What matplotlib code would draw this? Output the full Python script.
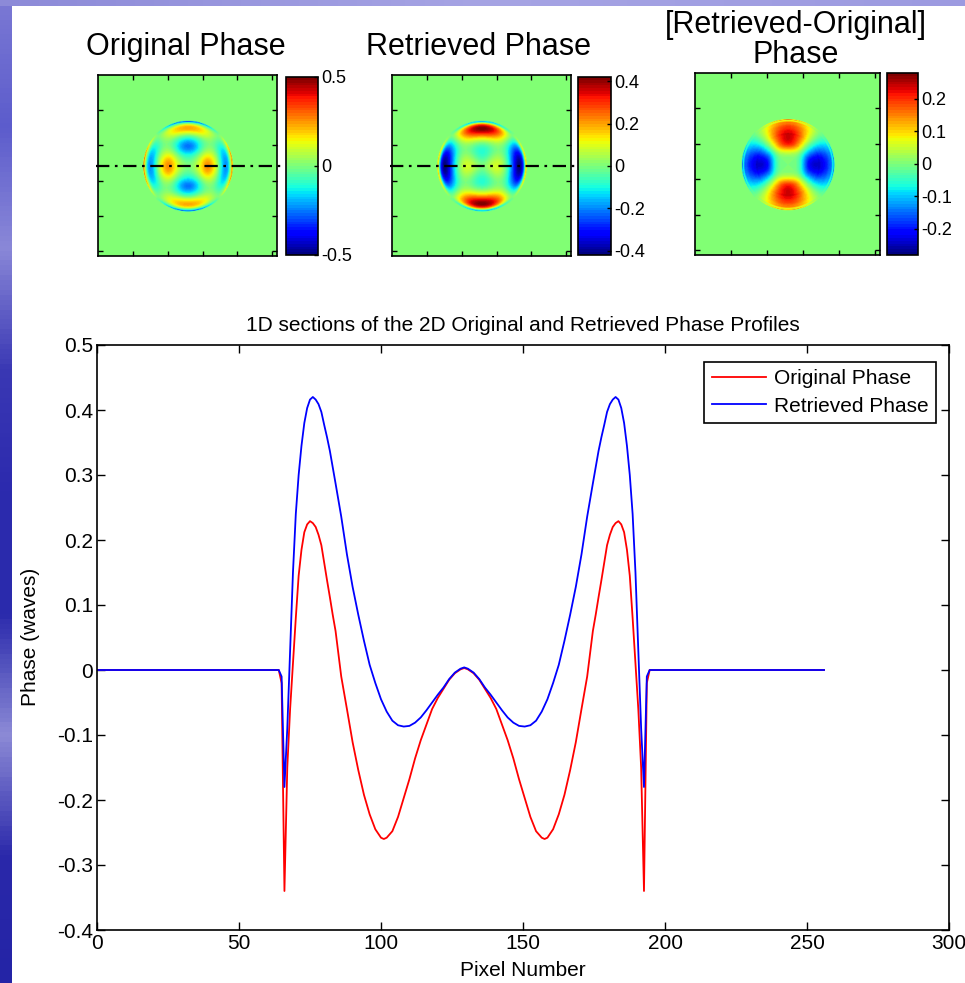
import numpy as np
import matplotlib
matplotlib.use("Agg")
import matplotlib.pyplot as plt
from matplotlib.colors import LinearSegmentedColormap

plt.rcParams['font.family'] = ['Liberation Sans', 'DejaVu Sans']
plt.rcParams['axes.unicode_minus'] = False

# 1D section of the original phase (pixel number, waves)
x_orig = [0, 64, 65, 66, 67, 68, 69, 70, 71, 72, 73, 74, 75, 76, 77, 78, 79, 80,
          81, 82, 83, 84, 86, 88, 90, 92, 94, 96, 98, 100, 101, 102, 104, 106,
          108, 110, 112, 114, 116, 118, 120, 122, 124, 126, 128, 129.3,
          130.6, 132.6, 134.6, 136.6, 138.6, 140.6, 142.6, 144.6, 146.6, 148.6,
          150.6, 152.6, 154.6, 156.6, 157.6, 158.6, 160.6, 162.6, 164.6, 166.6,
          168.6, 170.6, 172.6, 174.6, 175.6, 176.6, 177.6, 178.6, 179.6, 180.6,
          181.6, 182.6, 183.6, 184.6, 185.6, 186.6, 187.6, 188.6, 189.6, 190.6,
          191.6, 192.6, 193.6, 194.6, 256]
phase_orig = [0, 0, -0.02, -0.34, -0.15, -0.06, 0.01, 0.08, 0.145, 0.185, 0.212,
              0.224, 0.229, 0.226, 0.22, 0.208, 0.192, 0.165, 0.138, 0.112, 0.085,
              0.06, -0.01, -0.06, -0.111, -0.154, -0.192, -0.222, -0.245, -0.258,
              -0.26, -0.258, -0.248, -0.226, -0.197, -0.168, -0.136, -0.108,
              -0.084, -0.06, -0.043, -0.029, -0.015, -0.005, 0.001, 0.003,
              0.001, -0.005, -0.015, -0.029, -0.043, -0.06, -0.084, -0.108,
              -0.136, -0.168, -0.197, -0.226, -0.248, -0.258, -0.26, -0.258,
              -0.245, -0.222, -0.192, -0.154, -0.111, -0.06, -0.01, 0.06, 0.085,
              0.112, 0.138, 0.165, 0.192, 0.208, 0.22, 0.226, 0.229, 0.224, 0.212,
              0.185, 0.145, 0.08, 0.01, -0.06, -0.15, -0.34, -0.02, 0, 0]

# 1D section of the retrieved phase
x_ret = [0, 64, 65, 66, 67, 68, 69, 70, 71, 72, 73, 74, 75, 76, 77, 78, 79, 80,
         81, 82, 84, 86, 88, 90, 92, 94, 96, 98, 100, 102, 104, 106, 108, 110,
         112, 114, 116, 118, 120, 122, 124, 126, 128, 129.3,
         130.6, 132.6, 134.6, 136.6, 138.6, 140.6, 142.6, 144.6, 146.6, 148.6,
         150.6, 152.6, 154.6, 156.6, 158.6, 160.6, 162.6, 164.6, 166.6, 168.6,
         170.6, 172.6, 174.6, 176.6, 177.6, 178.6, 179.6, 180.6, 181.6, 182.6,
         183.6, 184.6, 185.6, 186.6, 187.6, 188.6, 189.6, 190.6, 191.6, 192.6,
         193.6, 194.6, 256]
phase_ret = [0, 0, -0.01, -0.18, -0.09, 0.03, 0.15, 0.24, 0.3, 0.345, 0.38, 0.403,
             0.416, 0.42, 0.416, 0.409, 0.397, 0.377, 0.358, 0.337, 0.287, 0.236,
             0.178, 0.128, 0.085, 0.045, 0.008, -0.02, -0.045, -0.064, -0.078,
             -0.085, -0.087, -0.086, -0.081, -0.073, -0.062, -0.05, -0.038,
             -0.027, -0.014, -0.004, 0.002, 0.004,
             0.002, -0.004, -0.014, -0.027, -0.038, -0.05, -0.062, -0.073,
             -0.081, -0.086, -0.087, -0.085, -0.078, -0.064, -0.045, -0.02,
             0.008, 0.045, 0.085, 0.128, 0.178, 0.236, 0.287, 0.337, 0.358,
             0.377, 0.397, 0.409, 0.416, 0.42, 0.416, 0.403, 0.38, 0.345, 0.3,
             0.24, 0.15, 0.03, -0.09, -0.18, -0.01, 0, 0]

x_ticks = [0, 50, 100, 150, 200, 250, 300]
y_ticks = [-0.4, -0.3, -0.2, -0.1, 0, 0.1, 0.2, 0.3, 0.4, 0.5]

center_px = 129.3
clim_orig, ticks_orig = 0.5, [-0.5, 0, 0.5]
clim_ret, ticks_ret = 0.42, [-0.4, -0.2, 0, 0.2, 0.4]
clim_diff, ticks_diff = 0.28, [-0.2, -0.1, 0, 0.1, 0.2]


def phase_map(xs, vals, n=256, c=center_px):
    # 2D map: radial profile of the section times an astigmatic cos(2*theta)
    xs = np.asarray(xs, float)
    vals = np.asarray(vals, float)
    keep = (xs >= 60) & (xs <= c)
    r_k = c - xs[keep]
    v_k = vals[keep]
    order = np.argsort(r_k)
    yy, xx = np.mgrid[1:n + 1, 1:n + 1]
    dx = xx - c
    dy = yy - c
    r = np.hypot(dx, dy)
    f = np.interp(r, r_k[order], v_k[order], right=0.0)
    ang = (dy ** 2 - dx ** 2) / np.maximum(r, 1e-9) ** 2
    return f * ang


W, H = 965, 983
fig = plt.figure(figsize=(W / 100, H / 100), dpi=100)
fig.patch.set_facecolor('white')


def px_axes(x0, y0, x1, y1, **kw):
    return fig.add_axes([x0 / W, 1 - y1 / H, (x1 - x0) / W, (y1 - y0) / H], **kw)


# slide background strips
strip = px_axes(0, 0, 12, H)
slide = LinearSegmentedColormap.from_list(
    'slide', ['#7a78d4', '#5c5ccc', '#8a88d8', '#3a38b4', '#2c2aae', '#2a2aac',
              '#8c8ad6', '#2a28aa', '#2424a6'])
strip.imshow(np.linspace(0, 1, 200)[:, None], aspect='auto', cmap=slide)
strip.axis('off')
band = px_axes(0, 0, W, 6)
band.imshow(np.linspace(0, 1, 200)[None, :], aspect='auto',
            cmap=LinearSegmentedColormap.from_list('band', ['#8c8ad8', '#a6a4e4', '#9c9ae0']))
band.axis('off')

jet = plt.get_cmap('jet', 64)

maps = [
    (phase_map(x_orig, phase_orig), clim_orig, ticks_orig,
     (98, 75, 277, 256), (286, 77, 318, 255), True),
    (phase_map(x_ret, phase_ret), clim_ret, ticks_ret,
     (392, 75, 571, 256), (578, 77, 611, 255), True),
    (phase_map(x_ret, phase_ret) - phase_map(x_orig, phase_orig), clim_diff, ticks_diff,
     (695, 73, 880, 255), (887, 73, 918, 255), False),
]

for img, cl, tks, apos, cpos, section in maps:
    ax = px_axes(*apos)
    im = ax.imshow(img, cmap=jet, vmin=-cl, vmax=cl, aspect='auto',
                   extent=(0.5, 256.5, 256.5, 0.5))
    if section:
        ax.plot([-2, 266], [129, 129], color='black', lw=1.6, clip_on=False,
                dashes=(6, 2.5, 1.2, 2.5))
    ax.set_xlim(0.5, 256.5)
    ax.set_ylim(256.5, 0.5)
    ax.set_xticks([50, 100, 150, 200, 250])
    ax.set_yticks([50, 100, 150, 200, 250])
    ax.tick_params(direction='in', length=3.5, width=1, top=True, right=True,
                   labelbottom=False, labelleft=False)
    for s in ax.spines.values():
        s.set_linewidth(1.2)
    cax = px_axes(*cpos)
    cb = fig.colorbar(im, cax=cax, ticks=tks)
    cb.ax.set_yticklabels(['%g' % t for t in tks])
    cb.ax.tick_params(direction='in', length=3, width=1, labelsize=13, pad=2)
    cb.outline.set_linewidth(1.2)

fig.text(186 / W, 1 - 55 / H, 'Original Phase', ha='center', va='baseline', fontsize=22)
fig.text(479 / W, 1 - 55 / H, 'Retrieved Phase', ha='center', va='baseline', fontsize=22)
fig.text(796 / W, 1 - 33 / H, '[Retrieved-Original]', ha='center', va='baseline', fontsize=22)
fig.text(796 / W, 1 - 63 / H, 'Phase', ha='center', va='baseline', fontsize=22)

# 1D sections
ax = px_axes(97, 345, 949, 930)
ax.plot(x_orig, phase_orig, color='#ff0000', lw=1.3, label='Original Phase')
ax.plot(x_ret, phase_ret, color='#0000ff', lw=1.3, label='Retrieved Phase')
ax.set_xlim(0, 300)
ax.set_ylim(-0.4, 0.5)
ax.set_xticks(x_ticks)
ax.set_yticks(y_ticks)
ax.set_yticklabels(['%g' % v for v in y_ticks])
ax.tick_params(direction='in', length=6, width=1, top=True, right=True,
               labelsize=15, pad=3)
for s in ax.spines.values():
    s.set_linewidth(1.2)
leg = ax.legend(loc='upper right', bbox_to_anchor=(936 / W, 1 - 362 / H),
                bbox_transform=fig.transFigure, fontsize=15, frameon=True,
                fancybox=False, edgecolor='black', framealpha=1, borderaxespad=0,
                handlelength=2.6, borderpad=0.35, labelspacing=0.4, handletextpad=0.4)
leg.get_frame().set_linewidth(1.2)

fig.text(523 / W, 1 - 331 / H, '1D sections of the 2D Original and Retrieved Phase Profiles',
         ha='center', va='baseline', fontsize=15)
fig.text(30 / W, 1 - 637 / H, 'Phase (waves)', ha='center', va='center',
         rotation=90, fontsize=15)
fig.text(523 / W, 1 - 971 / H, 'Pixel Number', ha='center', va='center', fontsize=15)

fig.savefig('out.png', dpi=100)
